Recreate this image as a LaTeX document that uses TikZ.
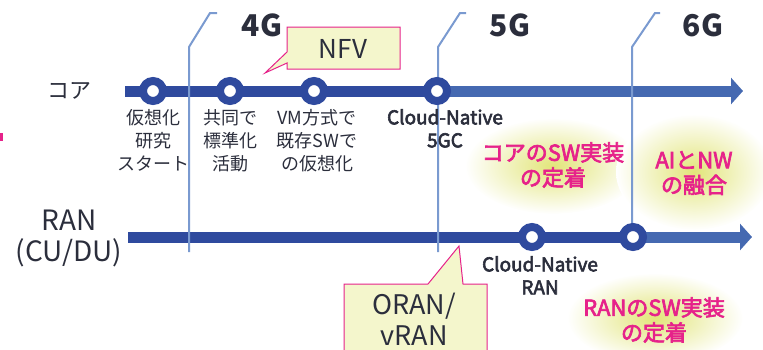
\documentclass[tikz,border=0pt]{standalone}
\usepackage{fontspec}
\setmainfont{Noto Sans CJK JP}
\newfontfamily\medio[FakeBold=3]{Noto Sans CJK JP}
\usepackage{tikz,xcolor}
\usetikzlibrary{calc}
\usetikzlibrary{positioning}
\usetikzlibrary{arrows.meta}

\definecolor{azulesc}{HTML}{2F4A9E}
\definecolor{azulcla}{HTML}{4569B1}
\definecolor{azuldiv}{HTML}{7A9AD0}
\definecolor{rosa}{HTML}{E6228A}
\definecolor{amarelo}{HTML}{F4F6CC}
\definecolor{brilho}{HTML}{E2E57A}
\definecolor{texto}{HTML}{2B2E3C}

\begin{document}
\begin{tikzpicture}[x=1pt,y=-1pt,
    marco/.style={circle,draw=azulesc,line width=8pt,fill=white,minimum size=20pt,inner sep=0pt},
    rotulo/.style={text=texto,font=\fontsize{18}{23}\selectfont,align=center,inner sep=0pt},
    rotulon/.style={text=texto,font=\fontsize{19}{23}\selectfont\medio,align=center,inner sep=0pt},
    era/.style={text=texto,font=\fontsize{30}{33}\selectfont\bfseries,inner sep=0pt},
    divisor/.style={azuldiv,line width=2pt},
    destaque/.style={text=rosa,font=\fontsize{22}{25}\selectfont\medio,align=center,inner sep=0pt},
    balao/.style={fill=amarelo,draw=rosa,line width=1pt},
    linha/.style={line width=11pt}]
  \useasboundingbox (0,0) rectangle (763,349);

  % Brilhos
  \shade[inner color=brilho,outer color=white] (553,166) ellipse (88 and 48);
  \shade[inner color=brilho,outer color=white] (694,172) ellipse (78 and 58);
  \shade[inner color=brilho,outer color=white] (655,318) ellipse (88 and 45);

  % Pontos das linhas
  \coordinate (core ini) at (125,91);
  \coordinate (core fim) at (743,91);
  \coordinate (ran ini) at (128,237);
  \coordinate (ran fim) at (752,237);
  \coordinate (p1) at (153,91);
  \coordinate (p2) at (230,91);
  \coordinate (p3) at (314,91);
  \coordinate (p4) at (437,91);
  \coordinate (q1) at (532,237);
  \coordinate (q2) at (633,237);

  % Linhas do tempo
  \draw[linha,azulesc] (core ini) -- (p4);
  \draw[linha,azulcla,-{Triangle[length=12pt,width=26pt]}] (p4) -- (core fim);
  \draw[linha,azulesc] (ran ini) -- (q2);
  \draw[linha,azulcla,-{Triangle[length=12pt,width=26pt]}] (q2) -- (ran fim);

  % Divisores das geracoes
  \draw[divisor] (189,252) -- (189,47) -- (210,13) -- (217,13);
  \draw[divisor] (438,252) -- (438,47) -- (460,13) -- (466,13);
  \draw[divisor] (632,237) -- (632,47) -- (655,13) -- (660,13);

  \node[era] (g4) at (262,25) {4G};
  \node[era] (g5) at (510,25) {5G};
  \node[era] (g6) at (703,25) {6G};

  % Marcos
  \node[marco] (c1) at (p1) {};
  \node[marco] (c2) at (p2) {};
  \node[marco] (c3) at (p3) {};
  \node[marco] (c4) at (p4) {};
  \node[marco] (r1) at (q1) {};
  \node[marco] (r2) at (q2) {};

  % Rotulos
  \node[text=texto,font=\fontsize{22}{24}\selectfont] (lcore) at (69,91) {コア};
  \node[text=texto,font=\fontsize{28}{31}\selectfont,align=center,inner sep=0pt] (lran) at (69,238) {RAN\\(CU/DU)};

  \node[rotulo,below=4pt of c1] (t1) {仮想化\\研究\\スタート};
  \node[rotulo,below=4pt of c2] (t2) {共同で\\標準化\\活動};
  \node[rotulo,below=4pt of c3,xshift=3pt] (t3) {VM方式で\\既存SWで\\の仮想化};
  \node[rotulon,below=4pt of c4,xshift=8pt] (t4) {Cloud-Native\\5GC};
  \node[rotulon,below=5pt of r1,xshift=8pt] (t5) {Cloud-Native\\RAN};

  \node[destaque] (d1) at (553,165) {コアのSW実装\\の定着};
  \node[destaque] (d2) at (694,173) {AIとNW\\の融合};
  \node[destaque] (d3) at (654,320) {RANのSW実装\\の定着};

  % Baloes
  \coordinate (nfv ponta) at (265,73);
  \draw[balao] (287,27) -- (400,27) -- (400,69) -- (287,69) -- (287,63) -- (nfv ponta) -- (287,52) -- cycle;
  \node[text=texto,font=\fontsize{26}{28}\selectfont] (nfv) at (343,49) {NFV};

  \coordinate (oran ponta) at (459,246);
  \draw[balao] (344,284) -- (428,284) -- (oran ponta) -- (463,284) -- (487,284) -- (487,360) -- (344,360) -- cycle;
  \node[text=texto,font=\fontsize{27}{31}\selectfont,align=center,inner sep=0pt] (oran) at (414,319) {ORAN/\\vRAN};

  \fill[rosa] (0,133) rectangle (3,141);
\end{tikzpicture}
\end{document}
